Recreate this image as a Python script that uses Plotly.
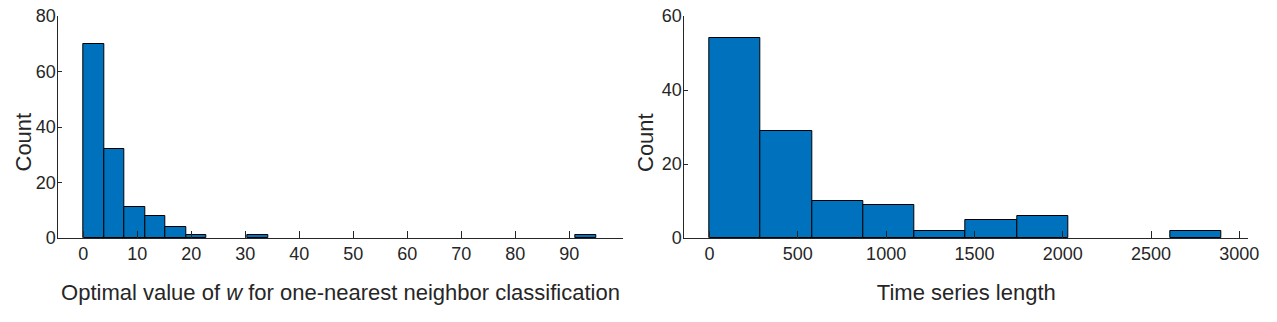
import numpy as np
import plotly.graph_objects as go

# Left histogram: optimal w
w_edges = [round(3.8 * i, 2) for i in range(26)]
w_counts = [70, 32, 11, 8, 4, 1, 0, 0, 1, 0, 0, 0, 0, 0, 0, 0, 0, 0, 0, 0, 0, 0, 0, 0, 1]
w_ticks = [0, 10, 20, 30, 40, 50, 60, 70, 80, 90]

# Right histogram: time series length
len_edges = [0, 290, 580, 870, 1160, 1450, 1740, 2030, 2320, 2610, 2900]
len_counts = [54, 29, 10, 9, 2, 5, 6, 0, 0, 2]
len_ticks = [0, 500, 1000, 1500, 2000, 2500, 3000]

W, H = 1277, 322
BLUE = "#0072BD"
TXT = "#262626"
FONT = "Arial, Liberation Sans, sans-serif"

fig = go.Figure()

def bars(edges, counts, xa, ya):
    e = np.array(edges, dtype=float)
    c = np.array(counts, dtype=float)
    centers = (e[:-1] + e[1:]) / 2
    widths = e[1:] - e[:-1]
    mask = c > 0
    fig.add_trace(go.Bar(x=centers[mask], y=c[mask], width=widths[mask],
                         marker=dict(color=BLUE, line=dict(color="black", width=1)),
                         xaxis=xa, yaxis=ya, showlegend=False, hoverinfo="x+y"))

bars(w_edges, w_counts, "x", "y")
bars(len_edges, len_counts, "x2", "y2")

axis_common = dict(showline=True, linecolor=TXT, linewidth=1, ticks="inside",
                   tickcolor=TXT, showgrid=False, zeroline=False, automargin=False,
                   tickfont=dict(family=FONT, size=18, color=TXT),
                   title_font=dict(family=FONT, size=22, color=TXT))

fig.update_layout(
    width=W, height=H,
    margin=dict(l=0, r=0, t=16, b=84),
    plot_bgcolor="white", paper_bgcolor="white",
    bargap=0,
    xaxis=dict(domain=[58.3 / W, 622.7 / W], range=[-4.63, 99.9],
               tickvals=w_ticks, ticklen=7, anchor="y", ticklabelstandoff=-1,
               title=dict(text="Optimal value of <i>w</i> for one-nearest neighbor classification", standoff=22),
               **axis_common),
    yaxis=dict(range=[0, 80], tickvals=[0, 20, 40, 60, 80], ticklen=4, anchor="x", ticklabelstandoff=-2,
               **axis_common),
    xaxis2=dict(domain=[684.3 / W, 1248.3 / W], range=[-143, 3051],
                tickvals=len_ticks, ticklen=7, anchor="y2", ticklabelstandoff=-1,
                title=dict(text="Time series length", standoff=22),
                **axis_common),
    yaxis2=dict(range=[0, 60], tickvals=[0, 20, 40, 60], ticklen=4, anchor="x2", ticklabelstandoff=-2,
                **axis_common),
)

for xpx in (23, 645.5):
    fig.add_annotation(text="Count", textangle=-90, showarrow=False,
                       xref="paper", yref="paper", x=xpx / W, y=(1 - 126.5 / (H - 100)),
                       xanchor="center", yanchor="middle",
                       font=dict(family=FONT, size=22, color=TXT))

fig.write_html("out.html")
